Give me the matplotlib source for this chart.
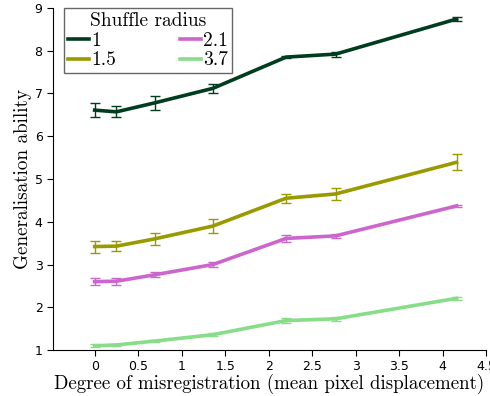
import matplotlib.pyplot as plt

# mean pixel displacement
displacement = [0, 0.25, 0.69, 1.36, 2.2, 2.77, 4.16]

radius_labels = ["1", "1.5", "2.1", "3.7"]
ability_r1 = [6.61, 6.57, 6.78, 7.12, 7.85, 7.92, 8.74]
ability_r15 = [3.42, 3.43, 3.60, 3.90, 4.55, 4.65, 5.39]
ability_r21 = [2.60, 2.61, 2.76, 3.00, 3.61, 3.67, 4.37]
ability_r37 = [1.10, 1.12, 1.21, 1.36, 1.69, 1.73, 2.21]

err_r1 = [0.17, 0.13, 0.16, 0.10, 0.03, 0.06, 0.05]
err_r15 = [0.14, 0.11, 0.14, 0.16, 0.10, 0.14, 0.19]
err_r21 = [0.09, 0.08, 0.06, 0.05, 0.09, 0.05, 0.03]
err_r37 = [0.04, 0.03, 0.03, 0.03, 0.05, 0.04, 0.03]

colors = ["#003d1f", "#999900", "#cc66cc", "#88dd88"]

serif = "cmr10"

fig = plt.figure(figsize=(4.9, 3.96), dpi=100)
ax = fig.add_axes([0.108, 0.116, 0.884, 0.864])

series = [ability_r1, ability_r15, ability_r21, ability_r37]
errors = [err_r1, err_r15, err_r21, err_r37]
for vals, errs, col, lab in zip(series, errors, colors, radius_labels):
    ax.errorbar(displacement, vals, yerr=errs, color=col, lw=2.6,
                elinewidth=1.0, capsize=3.3, capthick=1.0, label=lab)

ax.set_xlim(-0.48, 4.5)
ax.set_ylim(1, 9)
ax.set_xticks([0, 0.5, 1, 1.5, 2, 2.5, 3, 3.5, 4, 4.5])
ax.set_xticklabels(["0", "0.5", "1", "1.5", "2", "2.5", "3", "3.5", "4", "4.5"])
ax.set_yticks(range(1, 10))
ax.spines["top"].set_visible(False)
ax.spines["right"].set_visible(False)
ax.tick_params(labelsize=9, length=4, direction="out")

ax.set_xlabel("Degree of misregistration (mean pixel displacement)",
              fontfamily=serif, fontsize=13.6, labelpad=0)
ax.set_ylabel("Generalisation ability", fontfamily=serif, fontsize=13.8,
              labelpad=1.5)

handles, labels = ax.get_legend_handles_labels()
handles = [h[0] for h in handles]
leg = ax.legend(handles, labels, title="Shuffle radius", ncol=2,
                loc="upper left", bbox_to_anchor=(0.025, 1.0),
                borderaxespad=0,
                prop={"family": serif, "size": 14},
                title_fontproperties={"family": serif, "size": 14},
                handlelength=1.1, handletextpad=0.1, columnspacing=3.3,
                labelspacing=0.1, borderpad=0.2, fancybox=False,
                framealpha=1)
leg.get_frame().set_edgecolor("#666666")
for line in leg.get_lines():
    line.set_linewidth(2.6)

fig.savefig("out.png", dpi=100)
